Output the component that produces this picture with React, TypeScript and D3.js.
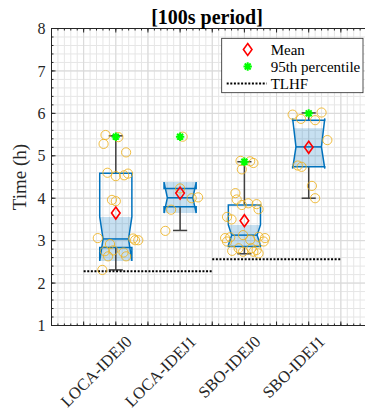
import React from "react";
import * as d3 from "d3";

// Scenario groups
const categories = ["LOCA-IDEJ0", "LOCA-IDEJ1", "SBO-IDEJ0", "SBO-IDEJ1"];

// Box statistics (hours)
const q1 = [2.84, 3.8, 2.86, 4.74];
const q3 = [4.59, 4.23, 3.84, 5.84];
const medians = [3.04, 4.01, 3.13, 5.21];
const notchLo = [2.52, 3.65, 2.89, 4.7];
const notchHi = [3.56, 4.38, 3.37, 5.88];
const whiskerLo = [2.31, 3.24, 2.69, 4.0];
const whiskerHi = [5.47, 4.23, 4.86, 6.01];
const shadeLo = [2.52, 3.65, 2.86, 4.74];
const shadeHi = [3.56, 4.38, 3.37, 5.65];
const means = [3.65, 4.12, 3.47, 5.2];
const p95 = [5.45, 5.45, 4.86, 6.0];

// Individual runs: [value, horizontal jitter]
const pointsLOCA0: [number, number][] = [
  [5.49, -0.16], [5.28, -0.19], [5.44, 0.04], [5.08, 0.16], [4.6, -0.13],
  [4.52, 0.0], [4.54, 0.13], [4.58, 0.19], [3.96, -0.06], [3.93, 0.0],
  [3.06, -0.28], [3.05, 0.27], [3.01, 0.3], [3.01, 0.35], [2.92, -0.09],
  [2.75, -0.17], [2.77, -0.04], [2.63, -0.12], [2.72, 0.12], [2.63, 0.16],
  [2.31, -0.21],
];
const pointsLOCA1: [number, number][] = [
  [5.45, 0.04], [4.23, 0.0], [4.0, 0.18], [4.02, 0.28], [3.73, -0.14], [3.23, -0.23],
];
const pointsSBO0: [number, number][] = [
  [4.88, -0.06], [4.87, 0.09], [4.83, 0.14], [4.68, -0.04], [4.12, -0.14],
  [3.97, -0.12], [3.88, 0.06], [3.86, 0.19], [3.74, 0.22], [3.84, -0.04],
  [3.56, -0.27], [3.5, -0.2], [3.06, -0.3], [3.08, -0.22], [2.98, -0.27],
  [3.09, 0.22], [3.06, 0.32], [2.98, 0.3], [3.02, 0.09], [3.13, -0.02],
  [2.82, -0.09], [2.82, 0.11], [2.78, 0.19], [2.74, -0.02], [2.76, -0.19],
  [2.7, 0.22], [2.74, 0.14],
];
const pointsSBO1: [number, number][] = [
  [5.97, -0.25], [5.87, -0.12], [5.84, 0.1], [6.02, 0.2], [5.37, 0.29],
  [4.77, -0.17], [4.74, -0.11], [4.29, 0.05], [4.0, 0.1],
];
const groupPoints = [pointsLOCA0, pointsLOCA1, pointsSBO0, pointsSBO1];

// Threshold lines: [value, x start, x end]
const tlhfLines: [number, number, number][] = [
  [2.28, 0.5, 2.5],
  [2.56, 2.5, 4.5],
];

const yTicks = [1, 2, 3, 4, 5, 6, 7, 8];

const W = 365;
const H = 411;
const FONT = "'Liberation Serif', 'Times New Roman', serif";
const AX = "#262626";
const BLUE = "#0072BD";

export default function App() {
  const x = d3.scaleLinear().domain([0, 5]).range([51.5, 373]);
  const y = d3.scaleLinear().domain([1, 8]).range([325.5, 28.5]);
  const [x0, x1] = x.range();
  const [yb, yt] = y.range();

  const halfBox = 0.25;
  const indent = 0.052;
  const capHalf = 0.11;

  const minorX = d3.range(0, 5.001, 0.1).map((v) => +v.toFixed(2));
  const majorX = d3.range(0, 5.001, 0.5).map((v) => +v.toFixed(2));
  const minorY = d3.range(1, 8.001, 0.2).map((v) => +v.toFixed(2));

  const indentAt = (i: number, v: number) => {
    const lo = notchLo[i], hi = notchHi[i], m = medians[i];
    if (v >= lo && v <= m) return (indent * (v - lo)) / (m - lo);
    if (v > m && v <= hi) return (indent * (hi - v)) / (hi - m);
    return 0;
  };

  const line = d3.line<[number, number]>().x((d) => d[0]).y((d) => d[1]);

  const boxes = categories.map((c, i) => {
    const cx = i + 1;
    const L = cx - halfBox;
    const R = cx + halfBox;
    const outline: [number, number][] = [
      [L, q1[i]], [L, notchLo[i]], [L + indent, medians[i]], [L, notchHi[i]], [L, q3[i]],
      [R, q3[i]], [R, notchHi[i]], [R - indent, medians[i]], [R, notchLo[i]], [R, q1[i]],
    ].map(([a, b]) => [x(a), y(b)] as [number, number]);
    const levels = [shadeLo[i], notchLo[i], medians[i], notchHi[i], shadeHi[i]]
      .filter((v) => v >= shadeLo[i] && v <= shadeHi[i])
      .sort((a, b) => a - b);
    const shade: [number, number][] = [
      ...levels.map((v) => [x(L + indentAt(i, v)), y(v)] as [number, number]),
      ...levels.slice().reverse().map((v) => [x(R - indentAt(i, v)), y(v)] as [number, number]),
    ];
    return { cx, L, R, outline, shade, i };
  });

  const starPath = (px: number, py: number, r: number) => {
    const d = r * 0.707;
    return `M${px - r},${py}L${px + r},${py}M${px},${py - r}L${px},${py + r}M${px - d},${py - d}L${px + d},${py + d}M${px - d},${py + d}L${px + d},${py - d}`;
  };
  const diamondPath = (px: number, py: number, w: number, h: number) =>
    `M${px},${py - h}L${px + w},${py}L${px},${py + h}L${px - w},${py}Z`;

  return (
    <svg
      width={W}
      height={H}
      style={{ position: "absolute", left: 0, top: 0, background: "#fff" }}
      fontFamily={FONT}
    >
      <rect x={0} y={0} width={W} height={H} fill="#fff" />
      {/* grid */}
      <g>
        {minorX.map((v) => (
          <line key={"mx" + v} x1={x(v)} x2={x(v)} y1={yt} y2={yb} stroke="#e6e6e6" strokeWidth={1} />
        ))}
        {minorY.map((v) => (
          <line key={"my" + v} x1={x0} x2={x1} y1={y(v)} y2={y(v)} stroke="#e6e6e6" strokeWidth={1} />
        ))}
        {majorX.map((v) => (
          <line key={"Mx" + v} x1={x(v)} x2={x(v)} y1={yt} y2={yb} stroke="#d9d9d9" strokeWidth={1} />
        ))}
        {yTicks.map((v) => (
          <line key={"My" + v} x1={x0} x2={x1} y1={y(v)} y2={y(v)} stroke="#d9d9d9" strokeWidth={1} />
        ))}
      </g>

      {/* boxes */}
      {boxes.map((b) => (
        <g key={"box" + b.i}>
          <path d={line(b.shade) + "Z"} fill={BLUE} fillOpacity={0.22} stroke="none" />
          <line
            x1={x(b.cx)} x2={x(b.cx)} y1={y(q3[b.i])} y2={y(whiskerHi[b.i])}
            stroke="#404040" strokeWidth={1.5}
          />
          <line
            x1={x(b.cx)} x2={x(b.cx)} y1={y(q1[b.i])} y2={y(whiskerLo[b.i])}
            stroke="#404040" strokeWidth={1.5}
          />
          {whiskerHi[b.i] > q3[b.i] && (
            <line
              x1={x(b.cx - capHalf)} x2={x(b.cx + capHalf)} y1={y(whiskerHi[b.i])} y2={y(whiskerHi[b.i])}
              stroke="#404040" strokeWidth={1.5}
            />
          )}
          <line
            x1={x(b.cx - capHalf)} x2={x(b.cx + capHalf)} y1={y(whiskerLo[b.i])} y2={y(whiskerLo[b.i])}
            stroke="#404040" strokeWidth={1.5}
          />
          <path d={line(b.outline) + "Z"} fill="none" stroke={BLUE} strokeWidth={1.5} strokeLinejoin="miter" />
          <line
            x1={x(b.L + indent)} x2={x(b.R - indent)} y1={y(medians[b.i])} y2={y(medians[b.i])}
            stroke={BLUE} strokeWidth={1.5}
          />
        </g>
      ))}

      {/* TLHF thresholds */}
      {tlhfLines.map(([v, a, c], k) => (
        <line
          key={"tl" + k}
          x1={x(a)} x2={x(c)} y1={y(v)} y2={y(v)}
          stroke="#000" strokeWidth={2} strokeDasharray="2 1.6"
        />
      ))}

      {/* individual runs */}
      {groupPoints.map((pts, i) =>
        pts.map(([v, j], k) => (
          <circle
            key={`p${i}-${k}`}
            cx={x(i + 1 + j)} cy={y(v)} r={4.6}
            fill="none" stroke="#EDB120" strokeOpacity={0.85} strokeWidth={1}
          />
        ))
      )}

      {/* means and 95th percentiles */}
      {means.map((m, i) => (
        <path key={"mean" + i} d={diamondPath(x(i + 1), y(m), 4.3, 6)} fill="none" stroke="#ff0000" strokeWidth={1.6} />
      ))}
      {p95.map((p, i) => (
        <path key={"p95" + i} d={starPath(x(i + 1), y(p), 4.2)} fill="none" stroke="#00ff00" strokeWidth={2} />
      ))}

      {/* axes */}
      <g stroke={AX} strokeWidth={1} fill="none">
        <line x1={x0} x2={x1} y1={yt} y2={yt} />
        <line x1={x0} x2={x1} y1={yb} y2={yb} />
        <line x1={x0} x2={x0} y1={yt} y2={yb} />
        {minorX.map((v) => (
          <g key={"tx" + v}>
            <line x1={x(v)} x2={x(v)} y1={yb} y2={yb - 2} />
            <line x1={x(v)} x2={x(v)} y1={yt} y2={yt + 2} />
          </g>
        ))}
        {majorX.map((v) => (
          <g key={"Tx" + v}>
            <line x1={x(v)} x2={x(v)} y1={yb} y2={yb - 4} />
            <line x1={x(v)} x2={x(v)} y1={yt} y2={yt + 4} />
          </g>
        ))}
        {minorY.map((v) => (
          <line key={"ty" + v} x1={x0} x2={x0 + 2} y1={y(v)} y2={y(v)} />
        ))}
        {yTicks.map((v) => (
          <line key={"Ty" + v} x1={x0} x2={x0 + 4} y1={y(v)} y2={y(v)} />
        ))}
      </g>

      {/* tick labels */}
      {yTicks.map((v) => (
        <text key={"yl" + v} x={x0 - 6} y={y(v)} dy="0.35em" textAnchor="end" fontSize={16} fill={AX}>
          {v}
        </text>
      ))}
      {categories.map((c, i) => {
        const px = x(i + 1) + 13;
        const py = yb + 13;
        return (
          <text
            key={"xl" + c}
            x={px} y={py}
            transform={`rotate(-45 ${px} ${py})`}
            textAnchor="end" fontSize={16.5} fill={AX} dy="0.35em"
          >
            {c}
          </text>
        );
      })}

      <text
        x={26} y={177}
        transform={`rotate(-90 26 177)`}
        textAnchor="middle" fontSize={19} fill={AX}
      >
        Time (h)
      </text>
      <text x={207} y={24} textAnchor="middle" fontSize={20} fontWeight="bold" fill="#000">
        [100s period]
      </text>

      {/* legend */}
      <g>
        <rect x={221.7} y={38.3} width={141.3} height={54.4} fill="#fff" stroke={AX} strokeWidth={0.8} />
        <path d={diamondPath(247.7, 49.5, 4.3, 6)} fill="none" stroke="#ff0000" strokeWidth={1.6} />
        <path d={starPath(247.7, 66.5, 4.2)} fill="none" stroke="#00ff00" strokeWidth={2} />
        <line x1={226.7} x2={266.7} y1={83.5} y2={83.5} stroke="#000" strokeWidth={2} strokeDasharray="2 1.6" />
        <text x={270.7} y={49.5} dy="0.35em" fontSize={15} fill="#000">Mean</text>
        <text x={270.7} y={66.5} dy="0.35em" fontSize={15} fill="#000">95th percentile</text>
        <text x={270.7} y={83.5} dy="0.35em" fontSize={15} fill="#000">TLHF</text>
      </g>
    </svg>
  );
}
